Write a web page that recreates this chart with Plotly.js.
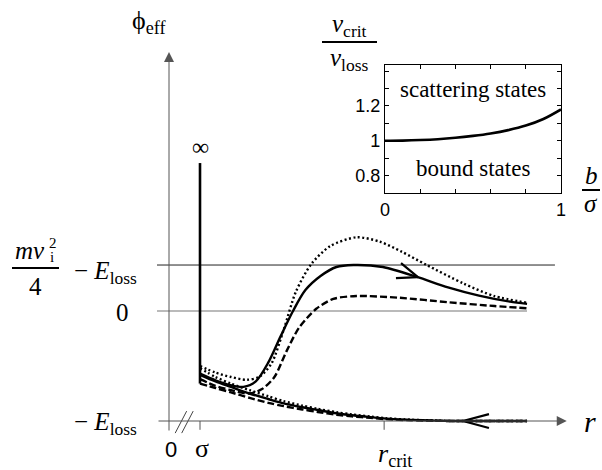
<!DOCTYPE html>
<html>
<head>
<meta charset="utf-8">
<script src="https://cdn.plot.ly/plotly-3.0.1.min.js"></script>
<style>
body { margin: 0; padding: 0; background: #fff; }
#plot { width: 602px; height: 470px; }
</style>
</head>
<body>
<div id="plot"></div>
<script>
//Effective potential, r in units of sigma, phi in units of E_loss
var rSolidUp = [1.0, 1.5, 2.0, 2.4, 2.8, 3.2, 3.6, 4.0, 4.4, 4.9, 5.4, 5.95, 6.9, 8.0, 9.0, 10.0, 11.0, 11.55];
var phiSolidUp = [-0.57, -0.63, -0.675, -0.69, -0.64, -0.47, -0.23, 0.0, 0.19, 0.32, 0.40, 0.418, 0.40, 0.31, 0.215, 0.14, 0.085, 0.065];

var rDotUp = [1.0, 1.5, 2.0, 2.5, 2.9, 3.3, 3.7, 4.1, 4.6, 5.2, 6.05, 6.8, 7.5, 8.3, 9.5, 10.5, 11.55];
var phiDotUp = [-0.50, -0.56, -0.60, -0.625, -0.60, -0.48, -0.17, 0.18, 0.43, 0.59, 0.67, 0.63, 0.54, 0.42, 0.25, 0.135, 0.075];

var rDashUp = [1.0, 1.5, 2.0, 2.6, 3.0, 3.4, 3.8, 4.2, 4.75, 5.3, 6.05, 7.45, 9.0, 10.5, 11.55];
var phiDashUp = [-0.62, -0.68, -0.72, -0.75, -0.71, -0.60, -0.36, -0.15, 0.02, 0.11, 0.136, 0.12, 0.08, 0.045, 0.025];

var rLow = [1.0, 1.5, 2.0, 2.6, 3.2, 3.7, 4.3, 4.8, 5.4, 5.9, 6.5, 7.0, 7.8, 8.6, 9.2, 11.55];
var phiSolidLow = [-0.58, -0.64, -0.69, -0.75, -0.80, -0.84, -0.875, -0.90, -0.93, -0.948, -0.965, -0.978, -0.99, -0.997, -1.0, -1.0];
var phiDotLow = [-0.52, -0.60, -0.66, -0.72, -0.775, -0.82, -0.86, -0.89, -0.92, -0.94, -0.96, -0.975, -0.988, -0.996, -1.0, -1.0];
var phiDashLow = [-0.66, -0.70, -0.74, -0.79, -0.835, -0.865, -0.895, -0.918, -0.943, -0.958, -0.972, -0.983, -0.993, -0.998, -1.0, -1.0];

//Levels and marks on the r axis
var levelScatter = 0.418;   // m v_i^2 / 4 - E_loss
var levelZero = 0;
var levelLoss = -1;
var rSigma = 1;
var rCrit = 6.94;
var rEnd = 11.55;
var wallTop = 1.345;

//Inset: v_crit / v_loss against b / sigma
var bRatio = [0, 0.1, 0.2, 0.3, 0.4, 0.5, 0.6, 0.7, 0.8, 0.9, 1.0];
var vRatio = [1.0, 1.001, 1.004, 1.009, 1.017, 1.028, 1.042, 1.061, 1.087, 1.125, 1.18];
var insetXTicks = [0, 0.2, 0.4, 0.6, 0.8, 1];
var insetXLabels = ['0', '', '', '', '', '1'];
var insetYTicks = [0.8, 0.9, 1.0, 1.1, 1.2, 1.3, 1.4];
var insetYLabels = ['0.8', '', '1', '', '1.2', '', ''];

// page geometry: r = 0 at px 169, 31 px per sigma; phi = 0 at py 311, 110 px per E_loss
var W = 602, H = 470;
var X0 = 169, SX = 31, Y0 = 311, SY = 110;
var xRange = [-X0 / SX, (W - X0) / SX];
var yRange = [(Y0 - H) / SY, Y0 / SY];

function toPaperX(x) { return x / W; }
function toPaperY(y) { return 1 - y / H; }

function interp(xs, ys, x) {
    for (var i = 0; i < xs.length - 1; i++) {
        if (x >= xs[i] && x <= xs[i + 1]) {
            var t = (x - xs[i]) / (xs[i + 1] - xs[i]);
            return ys[i] + t * (ys[i + 1] - ys[i]);
        }
    }
    return ys[ys.length - 1];
}

// open chevron drawn on a curve, pointing along +dir (1 = right, -1 = left)
function chevron(xs, ys, rTip, dir, len, half) {
    var pTip = interp(xs, ys, rTip);
    var p2 = interp(xs, ys, rTip + 0.3 * dir);
    var dxp = 0.3 * dir * SX, dyp = -(p2 - pTip) * SY;
    var back = Math.atan2(-dyp, -dxp);
    var out = {x: [], y: []};
    [back + half, null, back - half].forEach(function (a, k) {
        if (k === 1) { out.x.push(rTip); out.y.push(pTip); return; }
        out.x.push(rTip + len * Math.cos(a) / SX);
        out.y.push(pTip - len * Math.sin(a) / SY);
    });
    return out;
}

function curve(x, y, dash) {
    return {
        x: x, y: y, type: 'scatter', mode: 'lines',
        line: {color: 'black', width: 2.4, dash: dash, shape: 'spline', smoothing: 0.8},
        hoverinfo: 'skip', showlegend: false
    };
}

var chevUp = chevron(rSolidUp, phiSolidUp, 8.03, 1, 22, 0.37);
var chevLow = chevron(rLow, phiSolidLow, 9.48, -1, 27, 0.26);

var data = [
    curve(rDotUp, phiDotUp, '2px,2.5px'),
    curve(rDashUp, phiDashUp, '7px,3px'),
    curve(rSolidUp, phiSolidUp, 'solid'),
    curve(rLow, phiDotLow, '2px,2.5px'),
    curve(rLow, phiDashLow, '7px,3px'),
    curve(rLow, phiSolidLow, 'solid'),
    {x: [rSigma, rSigma], y: [phiDashLow[0], wallTop], type: 'scatter', mode: 'lines',
     line: {color: 'black', width: 2.6}, hoverinfo: 'skip', showlegend: false},
    {x: chevUp.x, y: chevUp.y, type: 'scatter', mode: 'lines',
     line: {color: 'black', width: 2.2}, hoverinfo: 'skip', showlegend: false},
    {x: chevLow.x, y: chevLow.y, type: 'scatter', mode: 'lines',
     line: {color: 'black', width: 2.2}, hoverinfo: 'skip', showlegend: false},
    {x: bRatio, y: vRatio, xaxis: 'x2', yaxis: 'y2', type: 'scatter', mode: 'lines',
     line: {color: 'black', width: 2.6, shape: 'spline'}, hoverinfo: 'skip', showlegend: false}
];

var lineStart = -0.387;
var shapes = [
    {type: 'line', xref: 'x', yref: 'y', x0: lineStart, x1: 12.45, y0: levelScatter, y1: levelScatter,
     line: {color: '#222', width: 1}, layer: 'below'},
    {type: 'line', xref: 'x', yref: 'y', x0: lineStart, x1: rEnd, y0: levelZero, y1: levelZero,
     line: {color: '#777', width: 1.2}, layer: 'below'},
    // ticks at sigma and r_crit
    {type: 'line', xref: 'x', yref: 'y', x0: rSigma, x1: rSigma, y0: levelLoss, y1: levelLoss - 0.08,
     line: {color: '#555', width: 1}},
    {type: 'line', xref: 'x', yref: 'y', x0: rCrit, x1: rCrit, y0: levelLoss, y1: levelLoss - 0.08,
     line: {color: '#555', width: 1}},
    // axis break
    {type: 'line', xref: 'x', yref: 'y', x0: 0.2, x1: 0.57, y0: levelLoss - 0.11, y1: levelLoss + 0.09,
     line: {color: '#444', width: 1}},
    {type: 'line', xref: 'x', yref: 'y', x0: 0.41, x1: 0.78, y0: levelLoss - 0.11, y1: levelLoss + 0.09,
     line: {color: '#444', width: 1}},
    // fraction bars
    {type: 'line', xref: 'paper', yref: 'paper', x0: toPaperX(12), x1: toPaperX(59), y0: toPaperY(268), y1: toPaperY(268),
     line: {color: 'black', width: 2}},
    {type: 'line', xref: 'paper', yref: 'paper', x0: toPaperX(322), x1: toPaperX(377), y0: toPaperY(42), y1: toPaperY(42),
     line: {color: 'black', width: 2}},
    {type: 'line', xref: 'paper', yref: 'paper', x0: toPaperX(582), x1: toPaperX(600), y0: toPaperY(190), y1: toPaperY(190),
     line: {color: 'black', width: 2}}
];

function label(x, y, text, size, family) {
    return {xref: 'paper', yref: 'paper', x: toPaperX(x), y: toPaperY(y), text: text, showarrow: false,
            xanchor: 'center', yanchor: 'middle',
            font: {family: family || 'Liberation Serif', size: size, color: 'black'}};
}

var annotations = [
    // axes with arrowheads
    {xref: 'x', yref: 'y', axref: 'x', ayref: 'y', x: 0, y: (Y0 - 52) / SY, ax: 0, ay: levelLoss - 0.1,
     text: '', showarrow: true, arrowhead: 2, arrowsize: 2, arrowwidth: 1, arrowcolor: '#555'},
    {xref: 'x', yref: 'y', axref: 'x', ayref: 'y', x: 12.83, y: levelLoss, ax: lineStart, ay: levelLoss,
     text: '', showarrow: true, arrowhead: 2, arrowsize: 2, arrowwidth: 1, arrowcolor: '#555'},
    label(149, 22, 'ϕ<sub>eff</sub>', 26),
    label(200, 147, '∞', 24),
    label(30, 250, '<i>mv</i>', 25),
    label(53, 243, '2', 15),
    label(52, 257, 'i', 15),
    label(35, 286, '4', 25),
    label(106, 272, '− <i>E</i><sub>loss</sub>', 25),
    label(122, 312, '0', 25),
    label(106, 423, '− <i>E</i><sub>loss</sub>', 25),
    label(171, 449, '0', 22, 'Liberation Sans'),
    label(202, 448, 'σ', 26),
    label(395, 455, '<i>r</i><sub>crit</sub>', 26),
    label(590, 421, '<i>r</i>', 30),
    label(349, 25, '<i>v</i><sub>crit</sub>', 25),
    label(349, 60, '<i>v</i><sub>loss</sub>', 25),
    label(591, 175, '<i>b</i>', 25),
    label(591, 204, '<i>σ</i>', 25),
    label(473, 90, 'scattering states', 23),
    label(473, 168, 'bound states', 23)
];

var axisStyle = {
    showline: true, linecolor: 'black', linewidth: 1.3, mirror: 'ticks',
    ticks: 'inside', ticklen: 4, tickcolor: 'black', showgrid: false, zeroline: false,
    tickfont: {family: 'Liberation Sans', size: 18, color: 'black'}
};

var layout = {
    width: W, height: H,
    margin: {l: 0, r: 0, t: 0, b: 0},
    paper_bgcolor: 'white', plot_bgcolor: 'rgba(0,0,0,0)',
    xaxis: {range: xRange, visible: false, fixedrange: true},
    yaxis: {range: yRange, visible: false, fixedrange: true},
    xaxis2: Object.assign({domain: [toPaperX(385), toPaperX(561)], anchor: 'y2', range: [0, 1],
        tickvals: insetXTicks, ticktext: insetXLabels}, axisStyle),
    yaxis2: Object.assign({domain: [toPaperY(193), toPaperY(65)], anchor: 'x2', range: [0.7, 1.435],
        tickvals: insetYTicks, ticktext: insetYLabels}, axisStyle),
    shapes: shapes,
    annotations: annotations,
    showlegend: false
};

Plotly.newPlot('plot', data, layout, {displayModeBar: false});
</script>
</body>
</html>
